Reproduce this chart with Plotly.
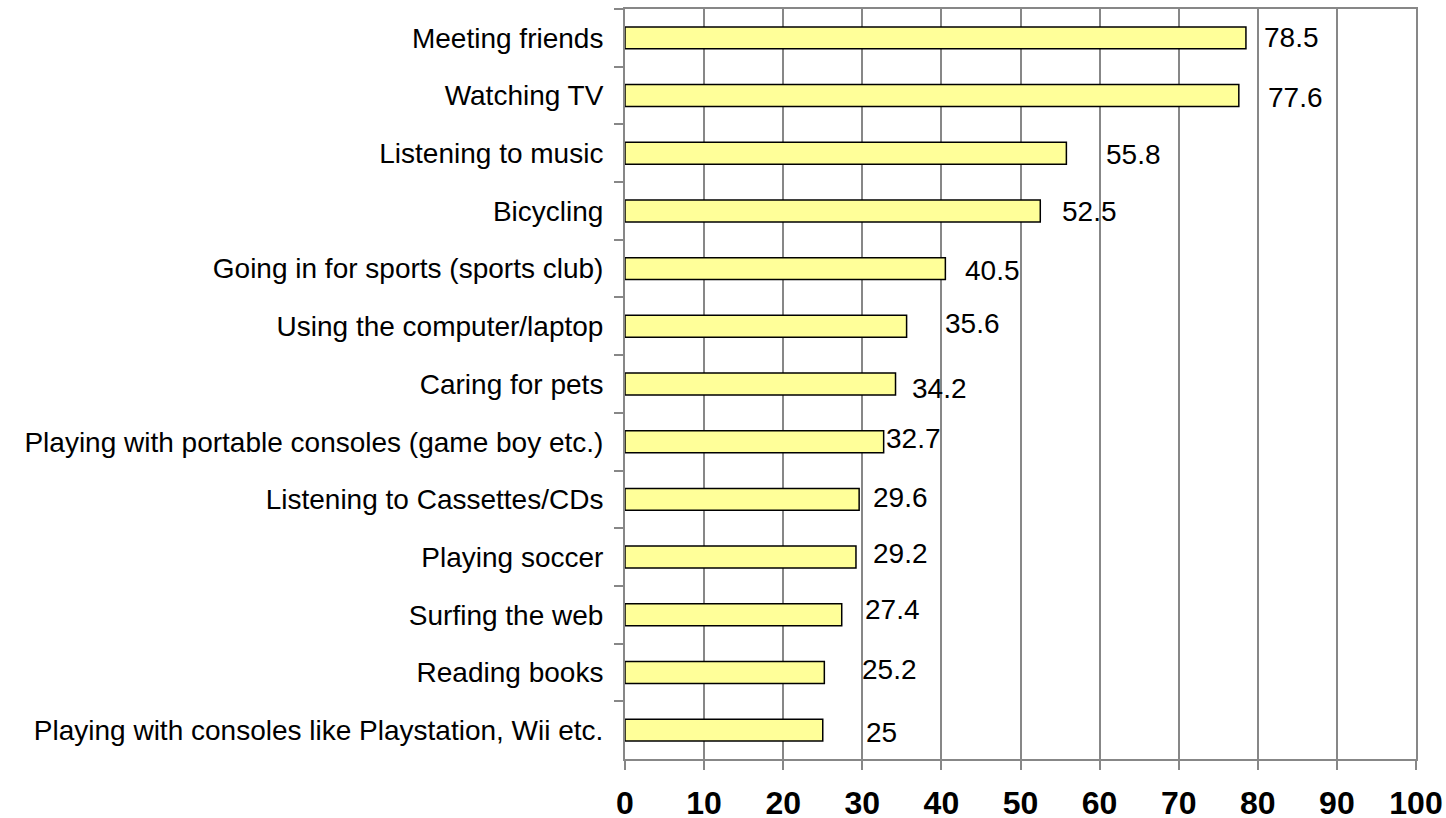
import plotly.graph_objects as go

categories = [
    "Meeting friends",
    "Watching TV",
    "Listening to music",
    "Bicycling",
    "Going in for sports (sports club)",
    "Using the computer/laptop",
    "Caring for pets",
    "Playing with portable consoles (game boy etc.)",
    "Listening to Cassettes/CDs",
    "Playing soccer",
    "Surfing the web",
    "Reading books",
    "Playing with consoles like Playstation, Wii etc.",
]
values = [78.5, 77.6, 55.8, 52.5, 40.5, 35.6, 34.2, 32.7, 29.6, 29.2, 27.4, 25.2, 25]
value_labels = ["78.5", "77.6", "55.8", "52.5", "40.5", "35.6", "34.2", "32.7", "29.6", "29.2", "27.4", "25.2", "25"]
x_ticks = [0, 10, 20, 30, 40, 50, 60, 70, 80, 90, 100]

# label placement (pixel offsets from bar end, as manually placed in the original)
label_dx = [16, 27, 38, 20, 18, 36, 14, 0, 12, 15, 21, 36, 41]
label_dy = [0, -1.5, -1, -1, -1.4, 3, -4, 3, 2, 4, 5, 3, -2]

GRID = "#878787"
FONT = "Liberation Sans, Arial, sans-serif"

fig = go.Figure()
fig.add_trace(go.Bar(
    x=values,
    y=categories,
    orientation="h",
    width=0.38,
    marker=dict(color="#FFFF99", line=dict(color="#000000", width=1.5)),
    hoverinfo="x+y",
))

for v, c, t, dx, dy in zip(values, categories, value_labels, label_dx, label_dy):
    fig.add_annotation(
        x=v, y=c, xref="x", yref="y", text=t, showarrow=False,
        xanchor="left", yanchor="middle", xshift=dx, yshift=dy,
        font=dict(family=FONT, size=28, color="#000000"),
    )

fig.update_layout(
    width=1446, height=818,
    margin=dict(l=625, r=30, t=9, b=59, autoexpand=False),
    paper_bgcolor="white", plot_bgcolor="white",
    showlegend=False,
    font=dict(family=FONT, color="#000000"),
)
fig.update_xaxes(
    range=[0, 100], tickvals=x_ticks, ticktext=[str(t) for t in x_ticks],
    showgrid=True, gridcolor=GRID, gridwidth=2,
    showline=True, linecolor=GRID, linewidth=2, mirror=True,
    ticks="outside", ticklen=9, tickcolor=GRID, tickwidth=2,
    tickfont=dict(family=FONT, size=32, color="#000000", weight="bold"),
    ticklabelstandoff=6, zeroline=False, fixedrange=True, automargin=False,
)
fig.update_yaxes(
    autorange="reversed", type="category",
    showgrid=False, showline=True, linecolor=GRID, linewidth=2, mirror=True,
    ticks="outside", ticklen=9, tickcolor=GRID, tickwidth=2, tickson="boundaries",
    tickfont=dict(family=FONT, size=28, color="#000000"),
    ticklabelstandoff=14, fixedrange=True, automargin=False,
)

fig.write_html(
    "out.html",
    config={"displayModeBar": False},
    post_script="document.body.style.margin='0';document.body.style.overflow='hidden';",
)
